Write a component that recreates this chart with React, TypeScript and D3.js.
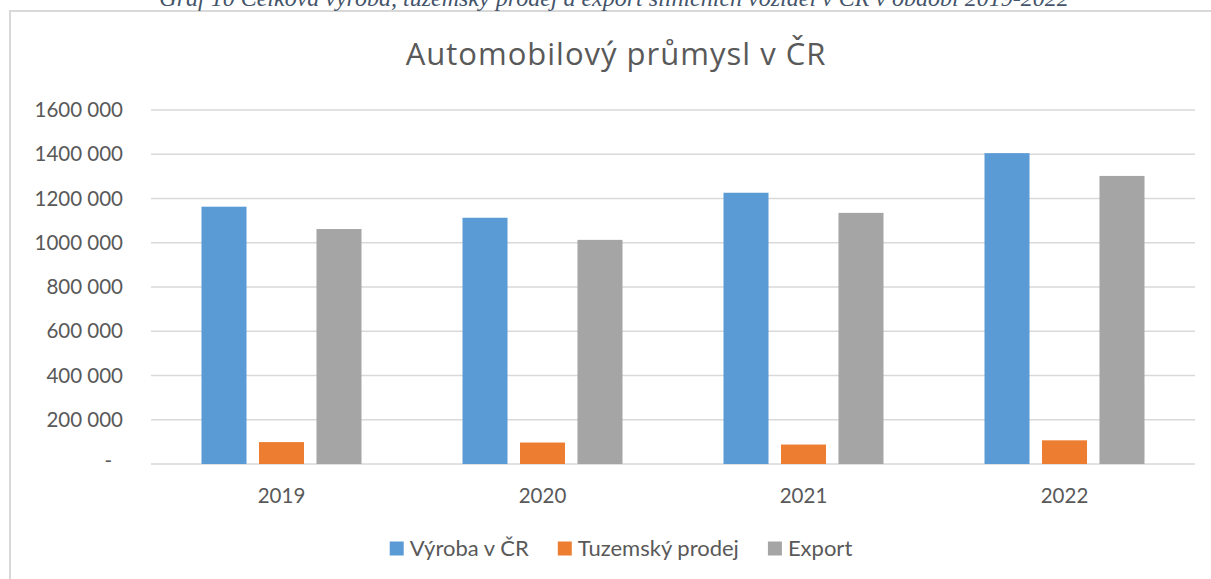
import React, { useEffect, useRef } from "react";
import * as d3 from "d3";

const years = ["2019", "2020", "2021", "2022"];
const seriesNames = ["Výroba v ČR", "Tuzemský prodej", "Export"];
const vyroba = [1163000, 1113000, 1226000, 1405000];
const tuzemsky = [99000, 97000, 88000, 107000];
const exportVals = [1062000, 1013000, 1135000, 1302000];
const yTicks = [0, 200000, 400000, 600000, 800000, 1000000, 1200000, 1400000, 1600000];
const colors = ["#5b9bd5", "#ed7d31", "#a5a5a5"];

const caption =
  "Graf 10 Celková výroba, tuzemský prodej a export silničních vozidel v ČR v období 2019-2022";
const title = "Automobilový průmysl v ČR";

const W = 1211;
const H = 579;
const FONT = "Lato, 'Open Sans', sans-serif";

// "1600 000" style labels, zero shown as a dash
const fmt = (v: number) => {
  if (v === 0) return "-";
  return `${Math.floor(v / 1000)} ${String(v % 1000).padStart(3, "0")}`;
};

const App = () => {
  const ref = useRef<SVGSVGElement>(null);

  useEffect(() => {
    const svg = d3.select(ref.current);
    svg.selectAll("*").remove();

    const rows = years.map((year, i) => ({
      year,
      values: [vyroba[i], tuzemsky[i], exportVals[i]],
    }));

    const margin = { top: 110, right: 16, bottom: 115, left: 151 };
    const x = d3
      .scaleBand()
      .domain(years)
      .range([margin.left, W - margin.right]);
    const y = d3
      .scaleLinear()
      .domain([0, 1600000])
      .range([H - margin.bottom, margin.top]);
    const groupW = 160;
    const inner = d3
      .scaleBand()
      .domain(seriesNames)
      .range([(x.bandwidth() - groupW) / 2, (x.bandwidth() + groupW) / 2])
      .paddingInner(0.217);

    // chart frame (runs off the right and bottom edges)
    svg
      .append("rect")
      .attr("x", 10)
      .attr("y", 11)
      .attr("width", W + 20)
      .attr("height", H + 20)
      .attr("fill", "#fff")
      .attr("stroke", "#d9d9d9")
      .attr("stroke-width", 2);

    // caption above, mostly clipped like in the source document
    svg
      .append("text")
      .attr("x", 614)
      .attr("y", 6)
      .attr("text-anchor", "middle")
      .attr("font-family", "'Liberation Serif', 'Times New Roman', serif")
      .attr("font-style", "italic")
      .attr("font-size", 24)
      .attr("fill", "#44546a")
      .text(caption);

    svg
      .append("text")
      .attr("x", 616)
      .attr("y", 65)
      .attr("text-anchor", "middle")
      .attr("font-family", "'Open Sans', Lato, sans-serif")
      .attr("font-size", 31)
      .attr("letter-spacing", 1)
      .attr("fill", "#595959")
      .text(title);

    // gridlines
    svg
      .append("g")
      .selectAll("line")
      .data(yTicks)
      .join("line")
      .attr("x1", margin.left)
      .attr("x2", W - margin.right)
      .attr("y1", (d) => y(d))
      .attr("y2", (d) => y(d))
      .attr("stroke", "#d9d9d9")
      .attr("stroke-width", 1.5);

    // y labels
    svg
      .append("g")
      .selectAll("text")
      .data(yTicks)
      .join("text")
      .attr("x", (d) => (d === 0 ? 112 : 123))
      .attr("y", (d) => y(d))
      .attr("dy", (d) => (d === 0 ? "0.2em" : "0.35em"))
      .attr("text-anchor", "end")
      .attr("font-family", FONT)
      .attr("font-size", 20.5)
      .attr("fill", "#595959")
      .text((d) => fmt(d));

    // bars
    const groups = svg
      .append("g")
      .selectAll("g")
      .data(rows)
      .join("g")
      .attr("transform", (d) => `translate(${x(d.year)},0)`);
    groups
      .selectAll("rect")
      .data((d) => d.values.map((v, k) => ({ key: seriesNames[k], v, k })))
      .join("rect")
      .attr("x", (d) => inner(d.key)!)
      .attr("width", inner.bandwidth())
      .attr("y", (d) => y(d.v))
      .attr("height", (d) => y(0) - y(d.v))
      .attr("fill", (d) => colors[d.k]);

    // x labels
    svg
      .append("g")
      .selectAll("text")
      .data(years)
      .join("text")
      .attr("x", (d) => x(d)! + x.bandwidth() / 2)
      .attr("y", 503)
      .attr("text-anchor", "middle")
      .attr("font-family", FONT)
      .attr("font-size", 20.5)
      .attr("fill", "#595959")
      .text((d) => d);

    // legend, centred
    const legend = svg.append("g");
    let cx = 0;
    seriesNames.forEach((name, i) => {
      const g = legend.append("g").attr("transform", `translate(${cx},0)`);
      g.append("rect")
        .attr("x", 0)
        .attr("y", -14.5)
        .attr("width", 14)
        .attr("height", 14)
        .attr("fill", colors[i]);
      const t = g
        .append("text")
        .attr("x", 20)
        .attr("y", 0)
        .attr("font-family", FONT)
        .attr("font-size", 22)
        .attr("fill", "#595959")
        .text(name);
      const w = (t.node() as SVGTextElement).getComputedTextLength();
      cx += 20 + w + 29;
    });
    const total = cx - 29;
    legend.attr("transform", `translate(${621 - total / 2},556)`);
  }, []);

  return (
    <svg
      ref={ref}
      width={W}
      height={H}
      style={{ position: "absolute", left: 0, top: 0, background: "#fff" }}
    />
  );
};

export default App;
